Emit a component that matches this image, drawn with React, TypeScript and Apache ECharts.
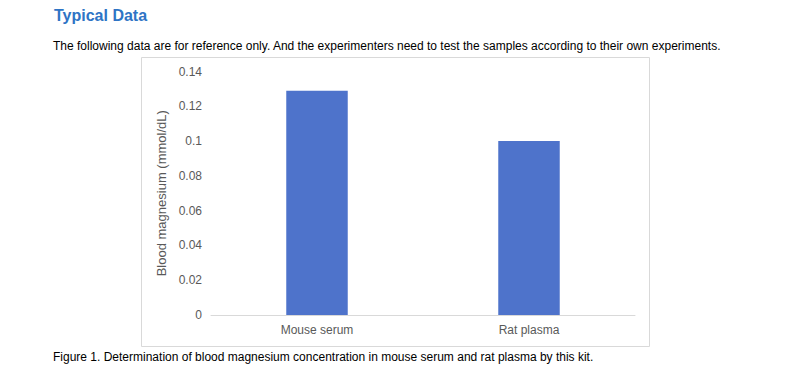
import React, { useEffect, useRef } from "react";
import * as echarts from "echarts";

const categories = ["Mouse serum", "Rat plasma"];
const values = [0.129, 0.1];
const yMax = 0.14;
const yInterval = 0.02;
const titleText = "Typical Data";
const introText =
  "The following data are for reference only. And the experimenters need to test the samples according to their own experiments.";
const captionText =
  "Figure 1. Determination of blood magnesium concentration in mouse serum and rat plasma by this kit.";
const yAxisName = "Blood magnesium (mmol/dL)";

export default function App() {
  const ref = useRef<HTMLDivElement>(null);
  useEffect(() => {
    if (!ref.current) return;
    const chart = echarts.init(ref.current, null, { renderer: "svg" });
    const font = "Arial, 'Liberation Sans', sans-serif";
    chart.setOption({
      animation: false,
      backgroundColor: "#ffffff",
      grid: { left: 211, right: 157, top: 71.5, bottom: 64 },
      xAxis: {
        type: "category",
        data: categories,
        axisLine: { lineStyle: { color: "#d9d9d9", width: 1 } },
        axisTick: { show: false },
        axisLabel: { color: "#595959", fontSize: 12, fontFamily: font, margin: 9 },
      },
      yAxis: {
        type: "value",
        min: 0,
        max: yMax,
        interval: yInterval,
        name: yAxisName,
        nameLocation: "middle",
        nameRotate: 90,
        nameGap: 37,
        nameTextStyle: { color: "#595959", fontSize: 13, fontFamily: font },
        axisLine: { show: false },
        axisTick: { show: false },
        splitLine: { show: false },
        axisLabel: { color: "#595959", fontSize: 12, fontFamily: font, margin: 9 },
      },
      series: [
        {
          type: "bar",
          data: values,
          barWidth: "29%",
          itemStyle: { color: "#4E73CB" },
        },
      ],
      graphic: [
        {
          type: "rect",
          shape: { x: 141.5, y: 57.5, width: 508, height: 289 },
          style: { fill: "none", stroke: "#d9d9d9", lineWidth: 1 },
          z: -1,
        },
        {
          type: "text",
          x: 54,
          y: 15,
          style: {
            text: titleText,
            fill: "#2E74C5",
            font: `bold 16px ${font}`,
            textVerticalAlign: "middle",
          },
        },
        {
          type: "text",
          x: 53,
          y: 46,
          style: {
            text: introText,
            fill: "#000000",
            font: `12px ${font}`,
            textVerticalAlign: "middle",
          },
        },
        {
          type: "text",
          x: 53,
          y: 357,
          style: {
            text: captionText,
            fill: "#000000",
            font: `12px ${font}`,
            textVerticalAlign: "middle",
          },
        },
      ],
    });
    return () => chart.dispose();
  }, []);
  return (
    <div
      ref={ref}
      style={{ position: "fixed", left: 0, top: 0, width: 792, height: 379 }}
    />
  );
}
